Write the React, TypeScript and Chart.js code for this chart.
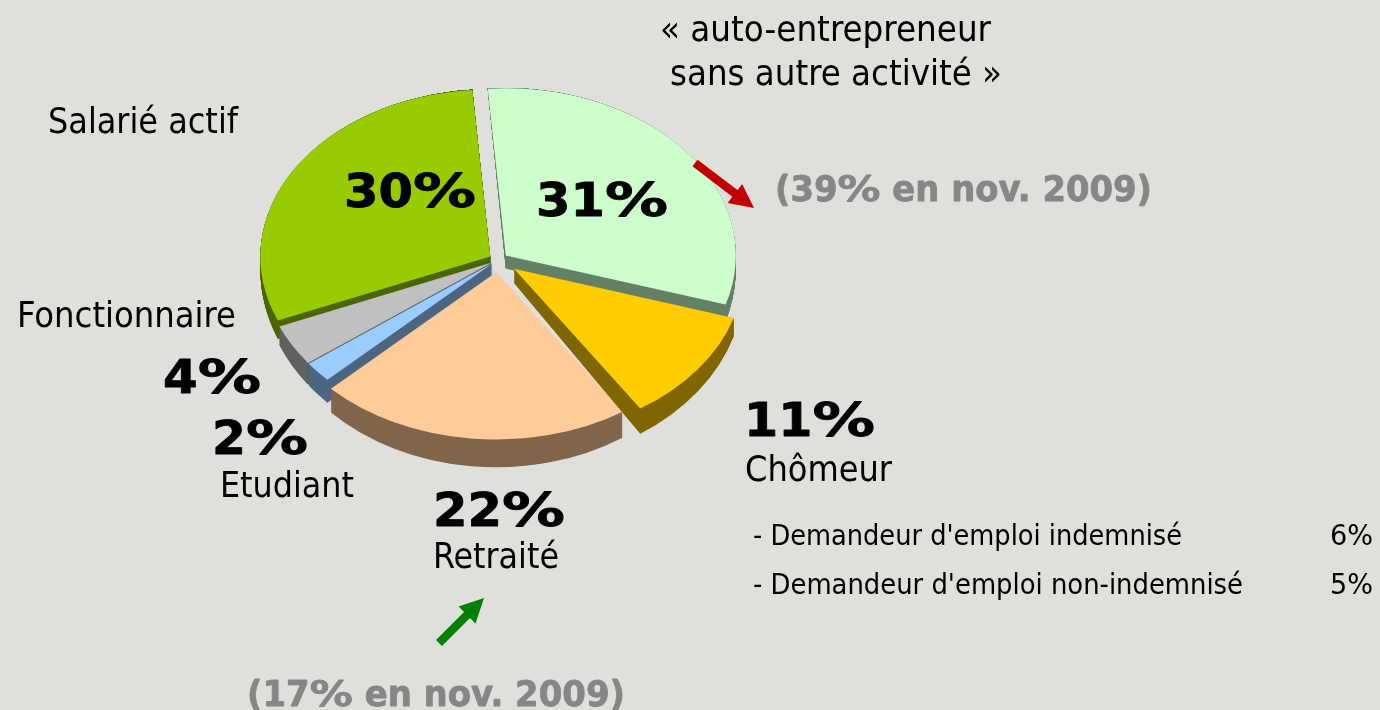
import React, { useEffect, useRef } from "react";
import { Chart, registerables } from "chart.js";

Chart.register(...registerables);

const categories = ["auto-entrepreneur sans autre activité", "Chômeur", "Retraité", "Etudiant", "Fonctionnaire", "Salarié actif"];
const shares = [31, 11, 22, 2, 4, 30];
const topColors = ["#CCFFCC", "#FFCC00", "#FFCC99", "#99CCFF", "#C0C0C0", "#99CC00"];
const wallColors = ["#668066", "#806600", "#80664D", "#4D6680", "#606060", "#4D6600"];
const explode = [10, 20, 17, 7, 7, 9];
const paintOrder = [0, 5, 4, 3, 2, 1];

const BG = "#DFE0DB";
const CX = 498;
const CY = 260;
const SQUASH = 0.727;
const DEPTH_SHIFT = 13.5;
const DEPTH_GROW = 0.08;

const REG = '"DejaVu Sans Condensed", "DejaVu Sans"';
const BOLD = '"DejaVu Sans"';

type Lab = [string, number, number, number, number, string, string];
// text, x, baseline, target width, font px, weight, colour
const labels: Lab[] = [
  ["« auto-entrepreneur", 660, 41, 331, 36, "400", "#000"],
  ["sans autre activité »", 670, 85, 332, 36, "400", "#000"],
  ["Salarié actif", 48, 133, 190, 36, "400", "#000"],
  ["Fonctionnaire", 17, 327, 219, 36, "400", "#000"],
  ["Etudiant", 220, 497, 134, 36, "400", "#000"],
  ["Retraité", 433, 568, 126, 36, "400", "#000"],
  ["Chômeur", 745, 481, 147, 36, "400", "#000"],
  ["- Demandeur d'emploi indemnisé", 753, 545, 429, 28, "400", "#000"],
  ["- Demandeur d'emploi non-indemnisé", 753, 594, 490, 28, "400", "#000"],
  ["6%", 1330, 545, 43, 28, "400", "#000"],
  ["5%", 1330, 594, 43, 28, "400", "#000"],
  ["30%", 344, 207, 132, 46, "700", "#000"],
  ["31%", 536, 216, 132, 46, "700", "#000"],
  ["11%", 744, 436, 131, 46, "700", "#000"],
  ["22%", 433, 526, 132, 46, "700", "#000"],
  ["4%", 163, 393, 98, 46, "700", "#000"],
  ["2%", 212, 454, 96, 46, "700", "#000"],
  ["(39% en nov. 2009)", 775, 201, 377, 36, "700", "#868686"],
  ["(17% en nov. 2009)", 247, 706, 378, 36, "700", "#868686"],
];

function arrow(ctx: CanvasRenderingContext2D, x0: number, y0: number, x1: number, y1: number, color: string) {
  const a = Math.atan2(y1 - y0, x1 - x0);
  const len = Math.hypot(x1 - x0, y1 - y0);
  const head = 24, hw = 12, sw = 4.2;
  ctx.save();
  ctx.translate(x0, y0);
  ctx.rotate(a);
  ctx.fillStyle = color;
  ctx.beginPath();
  ctx.moveTo(0, -sw);
  ctx.lineTo(len - head, -sw);
  ctx.lineTo(len - head, -hw);
  ctx.lineTo(len, 0);
  ctx.lineTo(len - head, hw);
  ctx.lineTo(len - head, sw);
  ctx.lineTo(0, sw);
  ctx.closePath();
  ctx.fill();
  ctx.restore();
}

const pie3d = {
  id: "pie3d",
  beforeDatasetDraw(chart: any, args: any) {
    const { ctx } = chart;
    const arcs = args.meta.data;
    paintOrder.forEach((i) => {
      const el = arcs[i];
      const base = el.options;
      const wall = Object.create(base);
      wall.backgroundColor = wallColors[i];
      const mid = (el.startAngle + el.endAngle) / 2;
      const place = (t: number) => {
        ctx.save();
        ctx.translate(CX, CY + DEPTH_SHIFT * t);
        ctx.scale(1, SQUASH * (1 + DEPTH_GROW * t));
        ctx.translate(-el.x + Math.cos(mid) * explode[i], -el.y + Math.sin(mid) * explode[i]);
      };
      el.options = wall;
      for (let s = 40; s >= 1; s--) {
        place(s / 40);
        el.draw(ctx);
        ctx.restore();
      }
      el.options = base;
      place(0);
      el.draw(ctx);
      ctx.restore();
    });
    return false;
  },
  afterDraw(chart: any) {
    const { ctx } = chart;
    ctx.save();
    ctx.textBaseline = "alphabetic";
    ctx.textAlign = "left";
    ctx.lineJoin = "round";
    labels.forEach(([text, x, y, w, size, weight, color]) => {
      ctx.fillStyle = color;
      ctx.strokeStyle = color;
      if (weight === "700") {
        ctx.font = `700 ${size}px ${BOLD}`;
        const parts = text.split(/(%)/);
        const PCT = 1.27;
        const total = parts.reduce((s, p) => s + ctx.measureText(p).width * (p === "%" ? PCT : 1), 0);
        const sx = w / total;
        let cur = x;
        parts.forEach((p) => {
          const k = sx * (p === "%" ? PCT : 1);
          ctx.save();
          ctx.translate(cur, y);
          ctx.scale(k, 1);
          ctx.lineWidth = 0.8;
          ctx.strokeText(p, 0, 0);
          ctx.fillText(p, 0, 0);
          ctx.restore();
          cur += ctx.measureText(p).width * k;
        });
      } else {
        ctx.font = `400 ${size}px ${REG}`;
        const sx = w / ctx.measureText(text).width;
        ctx.save();
        ctx.translate(x, y);
        ctx.scale(sx, 1);
        ctx.fillText(text, 0, 0);
        ctx.restore();
      }
    });
    ctx.restore();
    arrow(ctx, 695, 163, 754, 208, "#C00000");
    arrow(ctx, 439, 643, 484, 598, "#008000");
  },
};

export default function App() {
  const ref = useRef<HTMLCanvasElement>(null);
  useEffect(() => {
    const chart = new Chart(ref.current!, {
      type: "pie",
      data: {
        labels: categories,
        datasets: [{ data: shares, backgroundColor: topColors, borderWidth: 0 }],
      },
      options: {
        animation: false,
        responsive: false,
        rotation: -4.5,
        radius: 230,
        plugins: { legend: { display: false }, tooltip: { enabled: false } },
      },
      plugins: [pie3d],
    } as any);
    return () => chart.destroy();
  }, []);
  return (
    <div style={{ position: "fixed", left: 0, top: 0, width: 1380, height: 710, background: BG, overflow: "hidden" }}>
      <canvas ref={ref} width={1380} height={710} style={{ display: "block" }} />
    </div>
  );
}
